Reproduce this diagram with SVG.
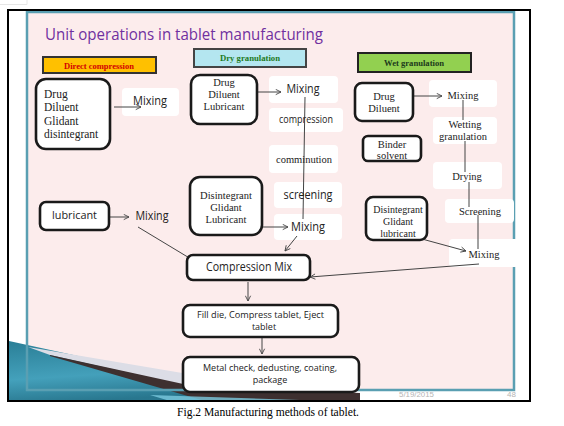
<svg xmlns="http://www.w3.org/2000/svg" width="564" height="426" viewBox="0 0 564 426">
<defs>
<marker id="ah" viewBox="0 0 8 8" refX="7" refY="4" markerWidth="7" markerHeight="7" orient="auto" markerUnits="userSpaceOnUse">
<path d="M1,1 L7,4 L1,7" fill="none" stroke="#444" stroke-width="1"/>
</marker>
<linearGradient id="teal" x1="0" y1="0" x2="0.3" y2="1">
<stop offset="0" stop-color="#1f7891"/>
<stop offset="0.6" stop-color="#3a9cb8"/>
<stop offset="1" stop-color="#1d6f88"/>
</linearGradient>
<style>
.sans{font-family:"Open Sans","Liberation Sans",sans-serif;fill:#222}
.serif{font-family:"Liberation Serif","Times New Roman",serif;fill:#222}
.node{fill:#fff;stroke:#1a1a1a;stroke-width:2.6}
.wbox{fill:#fff;stroke:none}
.conn{stroke:#444;stroke-width:1;fill:none}
.arr{stroke:#444;stroke-width:1;fill:none;marker-end:url(#ah)}
.lab{stroke-width:2}
</style>
</defs>
<rect x="0" y="0" width="564" height="426" fill="#fff"/>
<path d="M0,4.5 H27 V0" fill="none" stroke="#e6e6e6" stroke-width="1"/>
<!-- slide background -->
<rect x="27" y="12" width="487" height="378" fill="#fcecec"/>
<!-- bottom-left decoration -->
<polygon points="9,341 9,401 285,401" fill="url(#teal)" opacity="0.95"/>
<polygon points="28,347 200,376 200,389 50,355" fill="#dcdde6"/>
<polygon points="50,355 197,387 360,393 360,401 205,401 50,356" fill="#3e3030"/>
<polygon points="150,395 330,401 170,401" fill="#7ccbe0" opacity="0.8"/>
<rect x="27" y="12" width="487" height="378" fill="none" stroke="#5a9fb2" stroke-width="2.5"/>
<rect x="8" y="10" width="522" height="391" fill="none" stroke="#000" stroke-width="2"/>
<text x="399" y="397" font-family="Liberation Sans,sans-serif" font-size="8" fill="#b5b5b5" textLength="35" lengthAdjust="spacingAndGlyphs">5/19/2015</text>
<text x="507" y="397" font-family="Liberation Sans,sans-serif" font-size="8" fill="#b5b5b5">48</text>
<!-- title -->
<text x="45" y="40" font-family="Open Sans,Liberation Sans,sans-serif" font-size="17" fill="#7030a0" textLength="278" lengthAdjust="spacingAndGlyphs">Unit operations in tablet manufacturing</text>
<!-- section labels -->
<g id="label-direct">
<rect class="lab" x="43" y="57" width="113" height="16" fill="#ffc000" stroke="#333"/>
<text x="99" y="68.5" text-anchor="middle" font-family="Liberation Serif,serif" font-weight="bold" font-size="8" fill="#d40000" textLength="70" lengthAdjust="spacingAndGlyphs">Direct compression</text>
</g>
<g id="label-dry">
<rect class="lab" x="194" y="49" width="112" height="18" fill="#b4e6f0" stroke="#444"/>
<text x="250" y="61" text-anchor="middle" font-family="Liberation Serif,serif" font-weight="bold" font-size="8" fill="#1d7a1d" textLength="60" lengthAdjust="spacingAndGlyphs">Dry granulation</text>
</g>
<g id="label-wet">
<rect class="lab" x="358" y="53" width="113" height="19" fill="#92d050" stroke="#222"/>
<text x="414" y="66" text-anchor="middle" font-family="Liberation Serif,serif" font-weight="bold" font-size="8" fill="#1c3a1c" textLength="60" lengthAdjust="spacingAndGlyphs">Wet granulation</text>
</g>
<!-- white step boxes -->
<g id="dc-mixing"><rect class="wbox" x="122" y="88" width="57" height="28" rx="4"/></g>
<g id="dry-mixing"><rect class="wbox" x="269" y="76" width="69" height="27" rx="4"/></g>
<g id="dry-compression"><rect class="wbox" x="269" y="108" width="74" height="24" rx="4"/></g>
<g id="dry-comminution"><rect class="wbox" x="269" y="145" width="69" height="28" rx="4"/></g>
<g id="dry-screening"><rect class="wbox" x="274" y="182" width="68" height="26" rx="4"/></g>
<g id="dry-mixing2"><rect class="wbox" x="274" y="214" width="68" height="26" rx="4"/></g>
<g id="wet-mixing"><rect class="wbox" x="429" y="80" width="68" height="27" rx="4"/></g>
<g id="wet-wetting"><rect class="wbox" x="433" y="117" width="64" height="27" rx="4"/></g>
<g id="wet-drying"><rect class="wbox" x="433" y="162" width="69" height="27" rx="4"/></g>
<g id="wet-screening"><rect class="wbox" x="445" y="199" width="69" height="24" rx="4"/></g>
<g id="wet-mixing2"><rect class="wbox" x="449" y="239" width="70" height="28" rx="4"/></g>
<!-- connectors -->
<g id="connectors">
<line class="conn" x1="305" y1="97" x2="303" y2="219"/>
<line class="conn" x1="463" y1="100" x2="463" y2="120"/>
<line class="conn" x1="465" y1="141" x2="465" y2="172"/>
<line class="conn" x1="469" y1="182" x2="469" y2="207"/>
<line class="conn" x1="478" y1="215" x2="478" y2="249"/>
<line class="arr" x1="114" y1="107" x2="141" y2="107"/>
<line class="arr" x1="254" y1="92" x2="281" y2="92"/>
<line class="arr" x1="253" y1="227" x2="288" y2="227"/>
<line class="arr" x1="297" y1="236" x2="285" y2="251"/>
<line class="arr" x1="110" y1="217" x2="129" y2="217"/>
<line class="arr" x1="138" y1="227" x2="201" y2="265"/>
<line class="arr" x1="405" y1="96" x2="442" y2="96"/>
<line class="arr" x1="422" y1="239" x2="466" y2="251"/>
<line class="arr" x1="479" y1="264" x2="310" y2="277"/>
<line class="arr" x1="248" y1="282" x2="248" y2="301"/>
<line class="arr" x1="262" y1="333" x2="262" y2="354"/>
</g>
<!-- step texts -->
<text class="sans" x="150" y="104.5" text-anchor="middle" font-size="12" textLength="34" lengthAdjust="spacingAndGlyphs">Mixing</text>
<text class="sans" x="303" y="93" text-anchor="middle" font-size="12" textLength="33" lengthAdjust="spacingAndGlyphs">Mixing</text>
<text class="sans" x="306" y="122.5" text-anchor="middle" font-size="10" textLength="54" lengthAdjust="spacingAndGlyphs">compression</text>
<text class="serif" x="304" y="163" text-anchor="middle" font-size="10.5" textLength="56" lengthAdjust="spacingAndGlyphs">comminution</text>
<text class="sans" x="308" y="199" text-anchor="middle" font-size="12" textLength="49" lengthAdjust="spacingAndGlyphs">screening</text>
<text class="sans" x="308" y="231" text-anchor="middle" font-size="12" textLength="34" lengthAdjust="spacingAndGlyphs">Mixing</text>
<text class="sans" x="152" y="220" text-anchor="middle" font-size="12" textLength="33" lengthAdjust="spacingAndGlyphs">Mixing</text>
<text class="serif" x="463" y="99" text-anchor="middle" font-size="10.5">Mixing</text>
<text class="serif" x="465" y="128" text-anchor="middle" font-size="10.5">Wetting</text>
<text class="serif" x="463" y="140" text-anchor="middle" font-size="10.5">granulation</text>
<text class="serif" x="467" y="180" text-anchor="middle" font-size="10.5">Drying</text>
<text class="serif" x="480" y="215" text-anchor="middle" font-size="10.5">Screening</text>
<text class="serif" x="484" y="258" text-anchor="middle" font-size="10.5">Mixing</text>
<!-- ingredient nodes -->
<g id="dc-ingredients">
<rect class="node" x="36" y="79" width="74" height="70" rx="10"/>
<text class="serif" font-size="11.5"><tspan x="44" y="98">Drug</tspan><tspan x="44" y="111">Diluent</tspan><tspan x="44" y="124.5">Glidant</tspan><tspan x="44" y="137.5">disintegrant</tspan></text>
</g>
<g id="dry-ingredients">
<rect class="node" x="191" y="75" width="66" height="49" rx="9"/>
<text class="serif" font-size="10.5" text-anchor="middle"><tspan x="224" y="86">Drug</tspan><tspan x="224" y="98">Diluent</tspan><tspan x="224" y="110">Lubricant</tspan></text>
</g>
<g id="dry-additives">
<rect class="node" x="190" y="177" width="72" height="58" rx="10"/>
<text class="serif" font-size="10.5" text-anchor="middle"><tspan x="226" y="198.5">Disintegrant</tspan><tspan x="226" y="210.5">Glidant</tspan><tspan x="226" y="222.5">Lubricant</tspan></text>
</g>
<g id="dc-lubricant">
<rect class="node" x="40" y="202" width="69" height="28" rx="6"/>
<text class="sans" x="74.5" y="219" text-anchor="middle" font-size="11.5" textLength="45" lengthAdjust="spacingAndGlyphs">lubricant</text>
</g>
<g id="wet-ingredients">
<rect class="node" x="355" y="83" width="58" height="38" rx="7"/>
<text class="serif" font-size="10.5" text-anchor="middle"><tspan x="384" y="100">Drug</tspan><tspan x="384" y="111.5">Diluent</tspan></text>
</g>
<g id="wet-binder">
<rect class="node" x="363" y="136" width="58" height="25" rx="5"/>
<text class="serif" font-size="10.5" text-anchor="middle"><tspan x="392" y="147.5">Binder</tspan><tspan x="392" y="158.5">solvent</tspan></text>
</g>
<g id="wet-additives">
<rect class="node" x="366" y="197" width="61" height="43" rx="7"/>
<text class="serif" font-size="10" text-anchor="middle"><tspan x="398" y="212.5">Disintegrant</tspan><tspan x="398" y="224.5">Glidant</tspan><tspan x="398" y="236.5">lubricant</tspan></text>
</g>
<g id="compression-mix">
<rect class="node" x="187" y="255" width="123" height="25" rx="6"/>
<text class="sans" x="249" y="271" text-anchor="middle" font-size="12" textLength="86" lengthAdjust="spacingAndGlyphs">Compression Mix</text>
</g>
<g id="fill-die">
<rect class="node" x="183" y="305" width="155" height="32" rx="7"/>
<text class="sans" font-size="9" text-anchor="middle"><tspan x="260.5" y="318" textLength="127" lengthAdjust="spacingAndGlyphs">Fill die, Compress tablet, Eject</tspan><tspan x="264" y="329.5">tablet</tspan></text>
</g>
<g id="finishing">
<rect class="node" x="183" y="357" width="176" height="35" rx="7"/>
<text class="sans" font-size="9" text-anchor="middle"><tspan x="270" y="371" textLength="134" lengthAdjust="spacingAndGlyphs">Metal check, dedusting, coating,</tspan><tspan x="270" y="382.5">package</tspan></text>
</g>
<!-- caption -->
<text x="177" y="416" font-family="Liberation Serif,Times New Roman,serif" font-size="11.5" fill="#000" textLength="182" lengthAdjust="spacingAndGlyphs">Fig.2 Manufacturing methods of tablet.</text>
</svg>
